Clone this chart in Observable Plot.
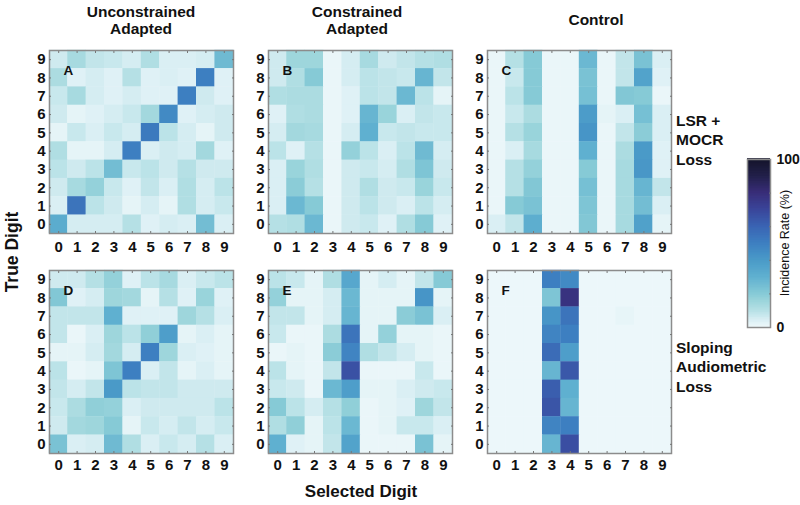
<!DOCTYPE html>
<html>
<head>
<meta charset="utf-8">
<script src="https://cdn.jsdelivr.net/npm/d3@7"></script>
<script src="https://cdn.jsdelivr.net/npm/@observablehq/plot@0.6"></script>
<style>
html,body{margin:0;padding:0;background:#fff;}
body{position:relative;width:800px;height:505px;overflow:hidden;font-family:"Liberation Sans",Arial,sans-serif;}
.t{position:absolute;font-weight:bold;color:#111;white-space:nowrap;}
.p{position:absolute;}
.p svg{display:block;max-width:none;}
</style>
</head>
<body>
<script>
const digits = [0,1,2,3,4,5,6,7,8,9];
const rowDigits = [9,8,7,6,5,4,3,2,1,0];
const colorStops = [0,5,10,15,20,30,40,50,60,70,80,90,100];
const colorRange = ["#eff8fb","#d5edf2","#b5e0e5","#9ed6dc","#86cad6","#5fb0d0","#4a9ac8","#3d7fc1","#3a64b3","#3a459a","#382d78","#22204a","#14142a"];

const panelA = [
[6,13,8,7,5,11,4,4,5,26],
[12,3,5,3,10,3,4,3,50,3],
[7,13,5,3,5,3,3,50,6,3],
[6,2,3,5,7,14,46,3,5,6],
[2,7,4,7,5,52,9,5,2,6],
[11,2,2,5,50,4,6,5,14,3],
[9,6,9,25,7,9,6,10,6,6],
[6,13,17,7,3,8,4,11,5,9],
[4,54,9,6,2,5,2,11,5,7],
[32,5,5,5,10,3,5,4,25,4]];
const panelB = [
[6,15,15,1,5,13,6,8,10,11],
[6,11,20,1,5,9,8,7,28,8],
[11,12,12,1,3,9,8,27,9,2],
[3,11,12,1,3,28,16,4,8,7],
[5,14,13,1,5,30,7,8,7,7],
[9,3,10,1,17,9,4,9,26,5],
[4,16,11,1,6,7,5,11,22,6],
[4,19,10,1,6,11,6,7,16,7],
[4,27,20,1,6,9,6,4,9,5],
[10,11,27,1,6,7,3,11,20,3]];
const panelC = [
[1,10,20,1,1,27,1,8,23,4],
[1,7,20,1,1,23,1,8,36,3],
[1,9,20,1,1,24,1,21,20,1],
[1,7,12,1,1,39,2,4,24,4],
[1,10,16,1,1,42,1,8,19,4],
[1,4,13,1,1,30,1,12,40,3],
[1,10,17,1,1,20,1,13,41,3],
[1,10,21,1,1,24,1,13,28,8],
[1,20,23,1,1,22,1,13,25,4],
[4,8,31,1,1,21,1,13,37,2]];
const panelD = [
[6,6,10,17,3,9,13,4,7,9],
[21,3,5,15,14,2,10,3,16,3],
[8,8,8,30,3,3,3,15,10,4],
[8,1,4,15,9,18,38,2,4,2],
[2,2,5,14,5,50,15,4,3,2],
[9,1,2,22,50,4,8,2,4,2],
[8,5,8,40,9,8,8,6,6,6],
[7,12,18,17,4,6,6,6,6,9],
[6,14,15,20,2,7,5,8,5,7],
[23,4,5,26,11,4,7,5,10,4]];
const panelE = [
[9,7,2,11,34,2,5,2,8,20],
[17,2,2,5,27,2,2,2,42,2],
[8,8,2,5,28,2,2,19,23,4],
[7,1,1,12,54,2,17,2,2,1],
[1,2,1,19,48,11,8,5,2,1],
[9,2,1,8,66,1,1,1,7,1],
[7,6,1,27,38,2,2,4,6,7],
[20,9,5,10,18,1,2,3,15,8],
[11,18,2,9,27,1,2,7,7,4],
[30,3,2,8,36,1,1,1,23,2]];
const panelF = [
[0.5,0.5,0.5,50,46,0.5,0.5,0.5,0.5,0.5],
[0.5,0.5,0.5,22,78,0.5,0.5,0.5,0.5,0.5],
[0.5,0.5,0.5,42,54,0.5,0.5,1.5,0.5,0.5],
[0.5,0.5,0.5,48,50,0.5,0.5,0.5,0.5,0.5],
[0.5,0.5,0.5,57,38,0.5,0.5,0.5,0.5,0.5],
[0.5,0.5,0.5,28,64,0.5,0.5,0.5,0.5,0.5],
[0.5,0.5,0.5,62,30,0.5,0.5,0.5,0.5,0.5],
[0.5,0.5,0.5,65,28,0.5,0.5,0.5,0.5,0.5],
[0.5,0.5,0.5,48,50,0.5,0.5,0.5,0.5,0.5],
[0.5,0.5,0.5,28,67,0.5,0.5,0.5,0.5,0.5]];

const colorScale = {type:"linear", domain:colorStops, range:colorRange, interpolate:"rgb"};
const frameGray = "#8c8c8c";
const FONT = '"Liberation Sans", Arial, sans-serif';

function place(node,left,top){
  const d=document.createElement("div");
  d.className="p"; d.style.left=left+"px"; d.style.top=top+"px";
  d.appendChild(node); document.body.appendChild(d);
}
function label(text,left,top,size,extra){
  const d=document.createElement("div");
  d.className="t"; d.textContent=text;
  d.style.left=left+"px"; d.style.top=top+"px"; d.style.fontSize=size+"px"; d.style.lineHeight="1";
  if(extra) Object.assign(d.style,extra);
  document.body.appendChild(d);
}
function panel(values,letter,left,top,pad){
  const cells=[];
  values.forEach((row,i)=>row.forEach((v,j)=>cells.push({x:digits[j],y:rowDigits[i],v})));
  const plot=Plot.plot({
    width:210,height:208,marginLeft:25,marginRight:1,marginTop:1,marginBottom:24,
    style:{fontFamily:FONT,background:"transparent",overflow:"visible"},
    x:{type:"band",domain:digits,padding:0,round:false,label:null},
    y:{type:"band",domain:rowDigits,padding:0,round:false,label:null},
    color:colorScale,
    marks:[
      Plot.cell(cells,{x:"x",y:"y",fill:"v",inset:-0.2}),
      Plot.frame({stroke:frameGray,strokeWidth:1.5}),
      Plot.axisX({anchor:"bottom",tickSize:0,tickPadding:pad,fontSize:15,fontWeight:"bold",fill:"#111",label:null}),
      Plot.axisY({anchor:"left",tickSize:0,tickPadding:4,fontSize:15,fontWeight:"bold",fill:"#111",label:null}),
      Plot.axisX({anchor:"bottom",tickSize:-2,text:null,label:null,stroke:"#777"}),
      Plot.axisX({anchor:"top",tickSize:-2,text:null,label:null,stroke:"#777"}),
      Plot.axisY({anchor:"left",tickSize:-2,text:null,label:null,stroke:"#777"}),
      Plot.axisY({anchor:"right",tickSize:-2,text:null,label:null,stroke:"#777"}),
      Plot.text([letter],{frameAnchor:"top-left",dx:14,dy:15,text:d=>d,fontSize:13.5,fontWeight:"bold",fill:"#111"})
    ]
  });
  place(plot,left,top);
}
panel(panelA,"A",24,49,8);
panel(panelB,"B",243,49,8);
panel(panelC,"C",462,49,8);
panel(panelD,"D",24,269,6);
panel(panelE,"E",243,269,6);
panel(panelF,"F",462,269,6);

// Colour bar
const legendSteps = d3.range(0,100);
const bar = Plot.plot({
  width:60,height:172,marginLeft:2,marginRight:35,marginTop:2,marginBottom:2,
  style:{fontFamily:FONT,background:"transparent",overflow:"visible"},
  x:{domain:[0,1],axis:null},
  y:{domain:[0,100],label:null},
  color:colorScale,
  marks:[
    Plot.rect(legendSteps,{x1:0,x2:1,y1:d=>d,y2:d=>d+1.5,fill:d=>d+0.5}),
    Plot.frame({stroke:frameGray,strokeWidth:1.5}),
    Plot.axisY({anchor:"right",ticks:[20,40,60,80],tickSize:-2,text:null,label:null,stroke:"#777"}),
    Plot.axisY({anchor:"right",ticks:[0,100],tickSize:0,tickPadding:6,fontSize:14,fontWeight:"bold",fill:"#111",label:null})
  ]
});
place(bar,745,157);

// Titles and labels
label("Unconstrained",141,4,15.5,{transform:"translateX(-50%)"});
label("Adapted",141,21,15.5,{transform:"translateX(-50%)"});
label("Constrained",357,4,15.5,{transform:"translateX(-50%)"});
label("Adapted",357,21,15.5,{transform:"translateX(-50%)"});
label("Control",596,12,15.5,{transform:"translateX(-50%)"});
label("LSR +",676,113,15.5);
label("MOCR",676,132,15.5);
label("Loss",676,152,15.5);
label("Sloping",676,340,15.5);
label("Audiometric",676,359,15.5);
label("Loss",676,379,15.5);
label("True Digit",13,252,17.5,{transform:"translate(-50%,-50%) rotate(-90deg)"});
label("Selected Digit",361,491,17,{transform:"translate(-50%,-50%)"});
label("Incidence Rate (%)",785,243,12.5,{transform:"translate(-50%,-50%) rotate(-90deg)",fontWeight:"normal"});
</script>
</body>
</html>
